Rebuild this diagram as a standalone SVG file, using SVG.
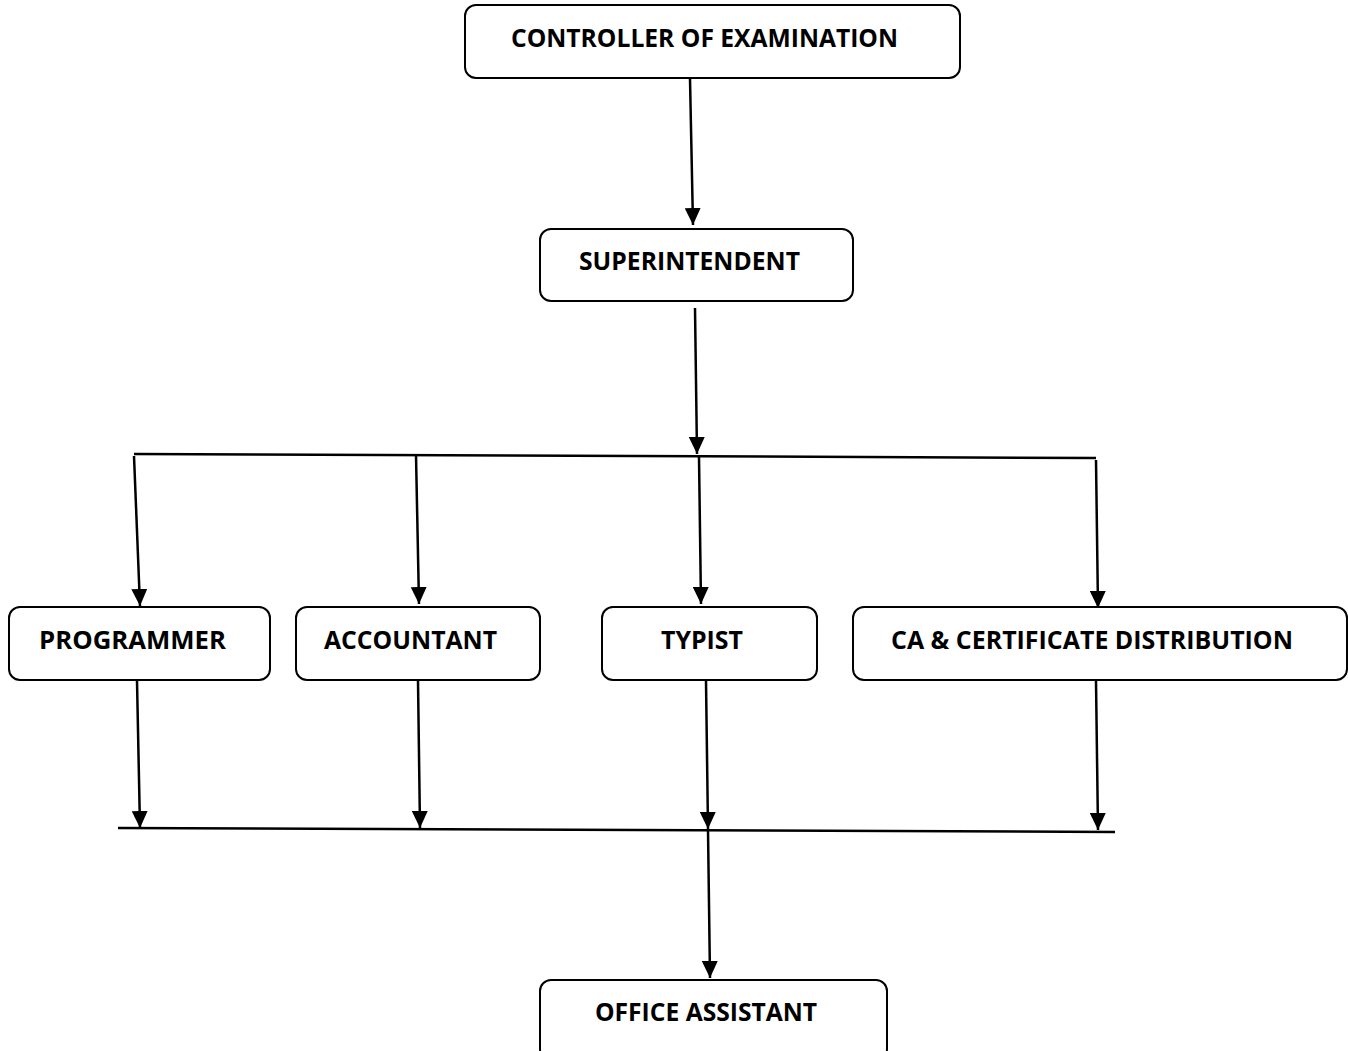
<svg xmlns="http://www.w3.org/2000/svg" width="1348" height="1051" viewBox="0 0 1348 1051">
<style>
.box{fill:#fff;stroke:#000;stroke-width:2}
.lbl{font-family:"Open Sans","Liberation Sans",sans-serif;font-weight:bold;font-size:25px;fill:#000}
.ln{stroke:#000;stroke-width:2.5;fill:none}
</style>
<defs>
<marker id="a" markerUnits="userSpaceOnUse" markerWidth="18" markerHeight="16" viewBox="0 0 18 16" refX="17" refY="8" orient="auto">
<path d="M0,0 L17,8 L0,16 Z" fill="#000"/>
</marker>
</defs>
<g id="connectors">
<line class="ln" x1="690" y1="79" x2="693" y2="225" marker-end="url(#a)"/>
<line class="ln" x1="695" y1="308" x2="697" y2="454" marker-end="url(#a)"/>
<line class="ln" x1="134" y1="454" x2="1096" y2="458"/>
<line class="ln" x1="134" y1="456" x2="140" y2="606" marker-end="url(#a)"/>
<line class="ln" x1="416" y1="455" x2="419" y2="604" marker-end="url(#a)"/>
<line class="ln" x1="699" y1="457" x2="701" y2="604" marker-end="url(#a)"/>
<line class="ln" x1="1096" y1="460" x2="1098" y2="608" marker-end="url(#a)"/>
<line class="ln" x1="137" y1="681" x2="140" y2="828" marker-end="url(#a)"/>
<line class="ln" x1="418" y1="681" x2="420" y2="828" marker-end="url(#a)"/>
<line class="ln" x1="706" y1="681" x2="708" y2="829" marker-end="url(#a)"/>
<line class="ln" x1="1096" y1="681" x2="1098" y2="830" marker-end="url(#a)"/>
<line class="ln" x1="118" y1="828" x2="1115" y2="832"/>
<line class="ln" x1="708" y1="830" x2="710" y2="978" marker-end="url(#a)"/>
</g>
<g id="controller">
<rect class="box" x="465" y="5" width="495" height="73" rx="11"/>
<text class="lbl" x="511" y="47" textLength="387" lengthAdjust="spacingAndGlyphs">CONTROLLER OF EXAMINATION</text>
</g>
<g id="superintendent">
<rect class="box" x="540" y="229" width="313" height="72" rx="11"/>
<text class="lbl" x="579" y="270" textLength="221" lengthAdjust="spacingAndGlyphs">SUPERINTENDENT</text>
</g>
<g id="programmer">
<rect class="box" x="9" y="607" width="261" height="73" rx="11"/>
<text class="lbl" x="39" y="649" textLength="187" lengthAdjust="spacingAndGlyphs">PROGRAMMER</text>
</g>
<g id="accountant">
<rect class="box" x="296" y="607" width="244" height="73" rx="11"/>
<text class="lbl" x="324" y="649" textLength="173" lengthAdjust="spacingAndGlyphs">ACCOUNTANT</text>
</g>
<g id="typist">
<rect class="box" x="602" y="607" width="215" height="73" rx="11"/>
<text class="lbl" x="661" y="649" textLength="82" lengthAdjust="spacingAndGlyphs">TYPIST</text>
</g>
<g id="ca">
<rect class="box" x="853" y="607" width="494" height="73" rx="11"/>
<text class="lbl" x="891" y="649" textLength="402" lengthAdjust="spacingAndGlyphs">CA &amp; CERTIFICATE DISTRIBUTION</text>
</g>
<g id="office-assistant">
<rect class="box" x="540" y="980" width="347" height="80" rx="11"/>
<text class="lbl" x="595" y="1021" textLength="222" lengthAdjust="spacingAndGlyphs">OFFICE ASSISTANT</text>
</g>
</svg>
